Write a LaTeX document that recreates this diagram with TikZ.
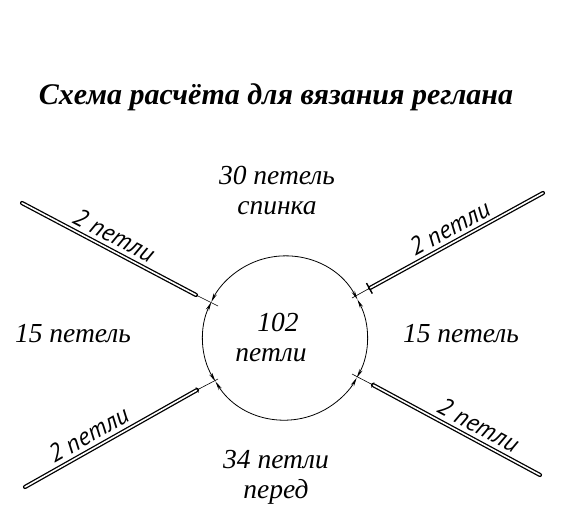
\documentclass[tikz,border=0pt]{standalone}
\usepackage{fontspec}
\setmainfont{Liberation Serif}
\newfontfamily\handfont{PT Sans}
\usetikzlibrary{arrows.meta,calc}

\begin{document}
\begin{tikzpicture}[x=1pt,y=1pt,
    needle/.style={line width=1.3pt, double distance=1.6pt, line cap=round},
    extline/.style={line width=0.6pt},
    dimarc/.style={line width=0.8pt,
      {Stealth[length=9pt,width=3.5pt]}-{Stealth[length=9pt,width=3.5pt]}},
    lbl/.style={font=\fontsize{27.5}{32}\selectfont\itshape, anchor=base, inner sep=0pt},
    hand/.style={font=\fontsize{25}{30}\selectfont\handfont\itshape, sloped, above, inner sep=5pt}]
  \useasboundingbox (0,0) rectangle (577,516);

  % title
  \node[font=\fontsize{30}{34}\selectfont\bfseries\itshape, anchor=base] (title) at (276,411)
       {Схема расчёта для вязания реглана};

  % neck circle, centre C, radius 82
  \coordinate (C) at (285,178);
  \draw[dimarc] ([shift={(28:82)}]C)  arc[start angle=28,  end angle=154, radius=82];
  \draw[dimarc] ([shift={(154:82)}]C) arc[start angle=154, end angle=212, radius=82];
  \draw[dimarc] ([shift={(212:82)}]C) arc[start angle=212, end angle=331, radius=82];
  \draw[dimarc] ([shift={(-29:82)}]C) arc[start angle=-29,  end angle=28,  radius=82];

  % needles: far end (f), needle tip (n), end of extension line (e)
  \coordinate (ULf) at (22,313);  \coordinate (ULn) at (196,221); \coordinate (ULe) at (218,210);
  \coordinate (URf) at (543,323); \coordinate (URn) at (370,228); \coordinate (URe) at (352,218);
  \coordinate (LLf) at (25,29);   \coordinate (LLn) at (197,126); \coordinate (LLe) at (218,137);
  \coordinate (LRf) at (540,41);  \coordinate (LRn) at (373,131); \coordinate (LRe) at (352,142);

  \draw[needle] (ULf) -- node[hand, pos=0.49] (ULlab) {2 петли} (ULn);
  \draw[needle] (URn) -- node[hand, pos=0.5]  (URlab) {2 петли} (URf);
  \draw[needle] (LLf) -- node[hand, pos=0.41] (LLlab) {2 петли} (LLn);
  \draw[needle] (LRn) -- node[hand, pos=0.59] (LRlab) {2 петли} (LRf);

  \draw[extline] (ULn) -- (ULe);
  \draw[extline, {Bar[width=12pt,line width=1.4pt]}-] (URn) -- (URe);
  \draw[extline, {Bar[width=6pt]}-] (LLn) -- (LLe);
  \draw[extline, {Bar[width=6pt]}-] (LRn) -- (LRe);

  % loop counts
  \node[lbl] (back1)  at (277,331) {30 петель};
  \node[lbl] (back2)  at (277,301) {спинка};
  \node[lbl] (lsleeve) at (73,173) {15 петель};
  \node[lbl] (rsleeve) at (461,173) {15 петель};
  \node[lbl] (total1) at (278,184) {102};
  \node[lbl] (total2) at (271,154) {петли};
  \node[lbl] (front1) at (276,48)  {34 петли};
  \node[lbl] (front2) at (276,18)  {перед};
\end{tikzpicture}
\end{document}
